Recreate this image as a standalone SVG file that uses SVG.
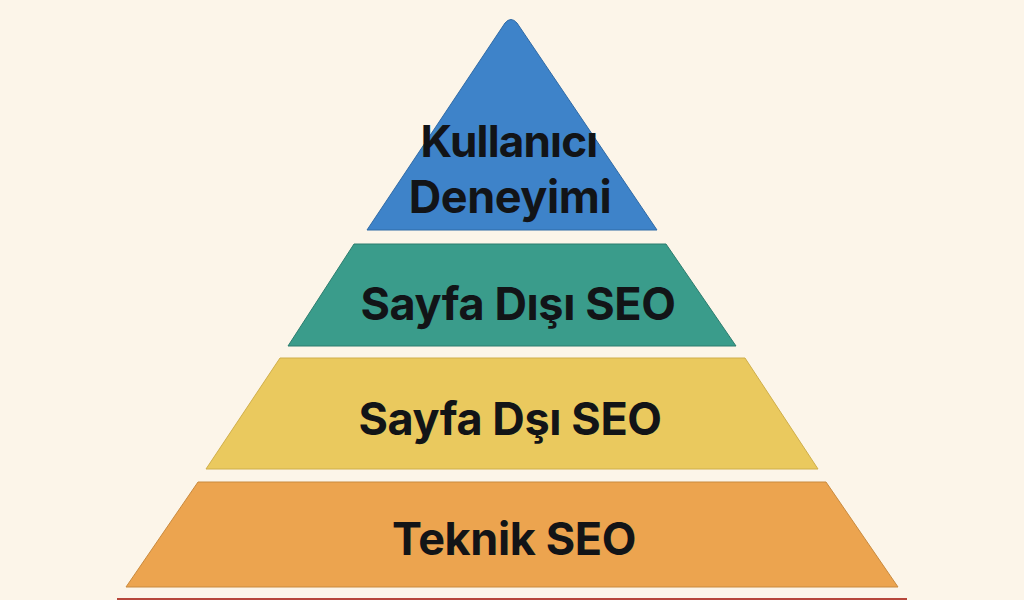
<svg xmlns="http://www.w3.org/2000/svg" width="1024" height="600" viewBox="0 0 1024 600">
<style>
.lbl{font-family:Inter,"Liberation Sans",Arial,sans-serif;font-weight:700;font-size:45px;fill:#121417;text-anchor:middle;letter-spacing:-0.4px}
.tier{stroke-width:1}
</style>
<rect width="1024" height="600" fill="#fcf5e9"/>
<g id="tier-ux">
<path class="tier" d="M505,23 Q511,16 517,23 L657,230 L367,230 Z" fill="#3e83c9" stroke="#2f6aa6"/>
<text class="lbl" x="509" y="157" style="font-size:44px;letter-spacing:-0.8px">Kullanıcı</text>
<text class="lbl" x="510" y="213">Deneyimi</text>
</g>
<g id="tier-offpage">
<path class="tier" d="M354,244 L666,244 L736,346 L288,346 Z" fill="#3a9c8b" stroke="#2c7d6f"/>
<text class="lbl" x="518" y="320">Sayfa Dışı SEO</text>
</g>
<g id="tier-offpage2">
<path class="tier" d="M280,358 L745,358 L818,469 L206,469 Z" fill="#eac95e" stroke="#cfae4a"/>
<text class="lbl" x="510" y="435">Sayfa Dşı SEO</text>
</g>
<g id="tier-technical">
<path class="tier" d="M198,482 L826,482 L898,587 L126,587 Z" fill="#eca44f" stroke="#c98a3e"/>
<text class="lbl" x="514" y="555">Teknik SEO</text>
</g>
<g id="tier-base">
<rect x="117" y="598" width="790" height="4" fill="#b6463a"/>
</g>
<g id="connectors"/>
</svg>
